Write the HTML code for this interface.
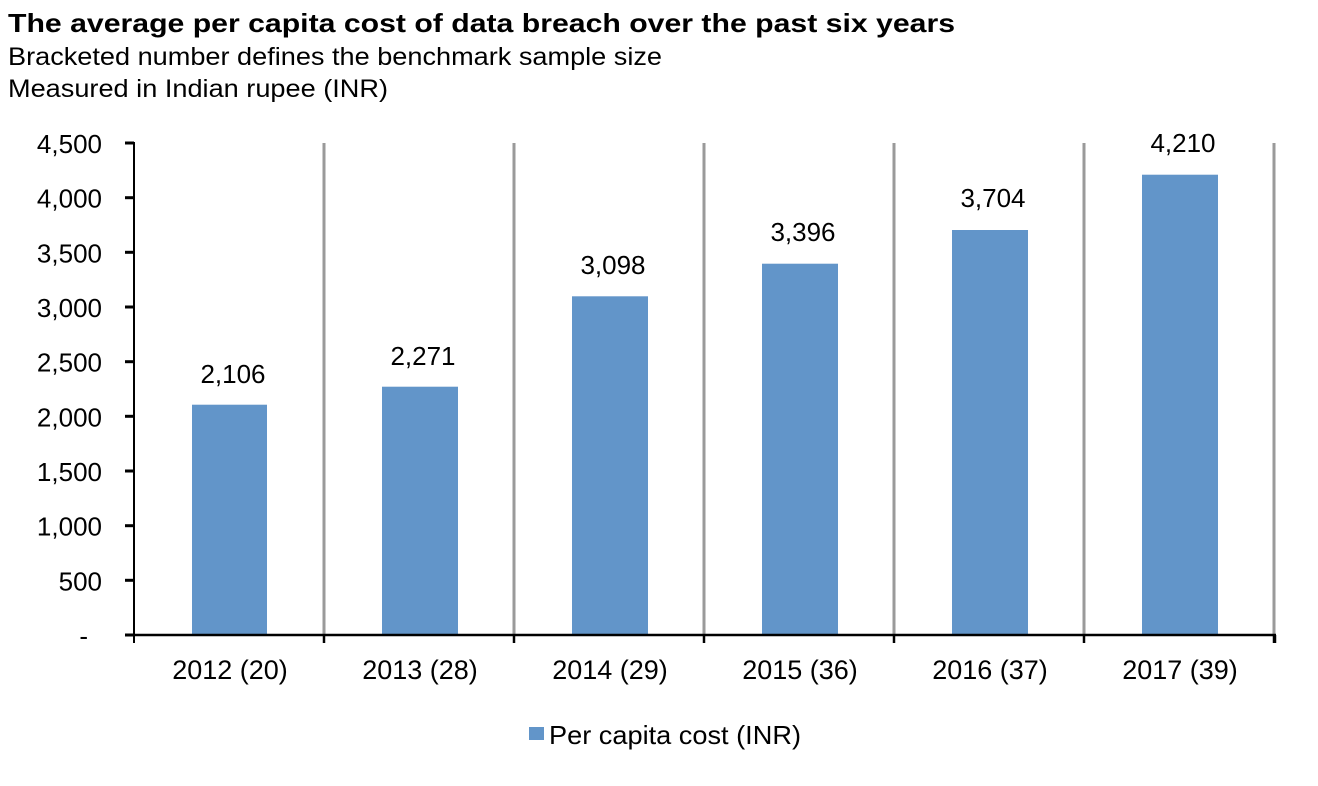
<!DOCTYPE html>
<html>
<head>
<meta charset="utf-8">
<style>
html,body{margin:0;padding:0;background:#fff;}
svg{display:block;}
text{font-family:"Liberation Sans",Arial,sans-serif;fill:#000;}
</style>
</head>
<body>
<svg width="1318" height="786" viewBox="0 0 1318 786" xmlns="http://www.w3.org/2000/svg">
<rect width="1318" height="786" fill="#fff"/>
<!-- Titles -->
<text x="8" y="32" font-size="26" font-weight="bold" textLength="947" lengthAdjust="spacingAndGlyphs">The average per capita cost of data breach over the past six years</text>
<text x="8" y="65" font-size="25" textLength="654" lengthAdjust="spacingAndGlyphs">Bracketed number defines the benchmark sample size</text>
<text x="8" y="97" font-size="25" textLength="380" lengthAdjust="spacingAndGlyphs">Measured in Indian rupee (INR)</text>

<!-- gridlines (category separators) -->
<g stroke="#9a9a9a" stroke-width="3">
<line x1="324" y1="143" x2="324" y2="635"/>
<line x1="514" y1="143" x2="514" y2="635"/>
<line x1="704" y1="143" x2="704" y2="635"/>
<line x1="894" y1="143" x2="894" y2="635"/>
<line x1="1084" y1="143" x2="1084" y2="635"/>
<line x1="1274" y1="143" x2="1274" y2="635"/>
</g>

<!-- bars -->
<g fill="#6295c9">
<rect x="192" y="404.7" width="75" height="230.3"/>
<rect x="382" y="386.7" width="76" height="248.3"/>
<rect x="572" y="296.3" width="76" height="338.7"/>
<rect x="762" y="263.7" width="76" height="371.3"/>
<rect x="952" y="230.0" width="76" height="405.0"/>
<rect x="1142" y="174.7" width="76" height="460.3"/>
</g>

<!-- axes -->
<g stroke="#000">
<line x1="134" y1="142" x2="134" y2="643" stroke-width="2"/>
<line x1="133" y1="635" x2="1276" y2="635" stroke-width="2.5"/>
<g stroke-width="3">
<line x1="125" y1="143" x2="134" y2="143"/>
<line x1="125" y1="197.7" x2="134" y2="197.7"/>
<line x1="125" y1="252.3" x2="134" y2="252.3"/>
<line x1="125" y1="307" x2="134" y2="307"/>
<line x1="125" y1="361.7" x2="134" y2="361.7"/>
<line x1="125" y1="416.3" x2="134" y2="416.3"/>
<line x1="125" y1="471" x2="134" y2="471"/>
<line x1="125" y1="525.7" x2="134" y2="525.7"/>
<line x1="125" y1="580.3" x2="134" y2="580.3"/>
<line x1="125" y1="635" x2="134" y2="635"/>
</g>
<g stroke-width="2.5">
<line x1="324" y1="635" x2="324" y2="643"/>
<line x1="514" y1="635" x2="514" y2="643"/>
<line x1="704" y1="635" x2="704" y2="643"/>
<line x1="894" y1="635" x2="894" y2="643"/>
<line x1="1084" y1="635" x2="1084" y2="643"/>
<line x1="1274.5" y1="635" x2="1274.5" y2="643" stroke-width="3.5"/>
</g>
</g>

<!-- y labels -->
<g font-size="26" text-anchor="end">
<text x="102" y="153">4,500</text>
<text x="102" y="207.7">4,000</text>
<text x="102" y="262.3">3,500</text>
<text x="102" y="317">3,000</text>
<text x="102" y="371.7">2,500</text>
<text x="102" y="426.3">2,000</text>
<text x="102" y="481">1,500</text>
<text x="102" y="535.7">1,000</text>
<text x="102" y="590.3">500</text>
<text x="88" y="645">-</text>
</g>

<!-- data labels -->
<g font-size="26" text-anchor="middle">
<text x="233" y="383">2,106</text>
<text x="423" y="365">2,271</text>
<text x="613" y="274">3,098</text>
<text x="803" y="241">3,396</text>
<text x="993" y="207">3,704</text>
<text x="1183" y="152">4,210</text>
</g>

<!-- x labels -->
<g font-size="27" text-anchor="middle">
<text x="230" y="679">2012 (20)</text>
<text x="420" y="679">2013 (28)</text>
<text x="610" y="679">2014 (29)</text>
<text x="800" y="679">2015 (36)</text>
<text x="990" y="679">2016 (37)</text>
<text x="1180" y="679">2017 (39)</text>
</g>

<!-- legend -->
<rect x="529" y="727" width="15" height="13" fill="#6295c9"/>
<text x="549" y="744" font-size="26" textLength="252" lengthAdjust="spacingAndGlyphs">Per capita cost (INR)</text>
</svg>
</body>
</html>
